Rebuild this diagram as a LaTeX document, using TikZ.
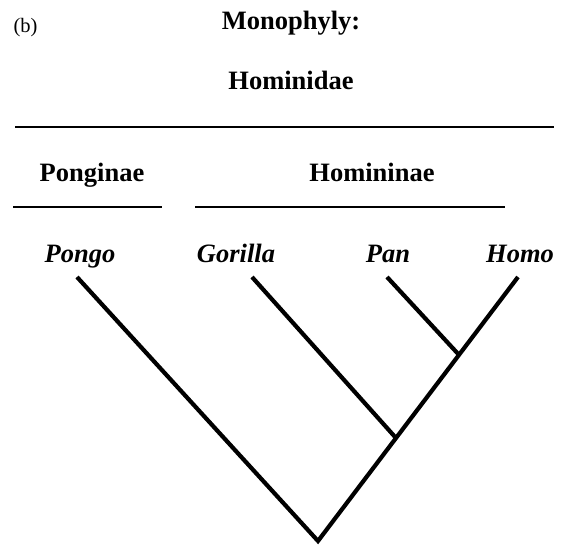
\documentclass[tikz,border=0pt]{standalone}
\usepackage{fontspec}
\setmainfont{Liberation Serif}
\usetikzlibrary{calc}
\begin{document}
\begin{tikzpicture}[x=1pt,y=-1pt,
  head/.style={anchor=base,inner sep=0pt,font=\fontsize{26.5}{30}\selectfont\bfseries},
  taxon/.style={anchor=base,inner sep=0pt,font=\fontsize{26.5}{30}\selectfont\bfseries\itshape},
  rule/.style={line width=2.2pt},
  branch/.style={line width=4.2pt,line join=miter}]
\useasboundingbox (0,0) rectangle (566,545);
\node[anchor=base,inner sep=0pt,font=\fontsize{20.5}{24}\selectfont] (b) at (25.5,33) {(b)};
\node[head] (mono) at (291,30) {Monophyly:};
\node[head] (hominidae) at (291,90) {Hominidae};
\node[head] (ponginae) at (92,182) {Ponginae};
\node[head] (homininae) at (372,182) {Homininae};
\node[taxon] (pongo) at (80,263) {Pongo};
\node[taxon] (gorilla) at (236,263) {Gorilla};
\node[taxon] (pan) at (388,263) {Pan};
\node[taxon] (homo) at (520,263) {Homo};
% rules
\coordinate (r1a) at (15,127); \coordinate (r1b) at (554,127);
\coordinate (r2a) at (13,207); \coordinate (r2b) at (162,207);
\coordinate (r3a) at (195,207); \coordinate (r3b) at (505,207);
\draw[rule] (r1a) -- (r1b);
\draw[rule] (r2a) -- (r2b);
\draw[rule] (r3a) -- (r3b);
% tree
\coordinate (tpongo) at (77,277);
\coordinate (tgorilla) at (252,277);
\coordinate (tpan) at (387,277);
\coordinate (thomo) at (518,277);
\coordinate (root) at (318,541);
\coordinate (jgor) at ($(root)!0.39!(thomo)$);
\coordinate (jpan) at ($(root)!0.705!(thomo)$);
\draw[branch] (tpongo) -- (root) -- (thomo);
\draw[branch] (tgorilla) -- (jgor);
\draw[branch] (tpan) -- (jpan);
\end{tikzpicture}
\end{document}
